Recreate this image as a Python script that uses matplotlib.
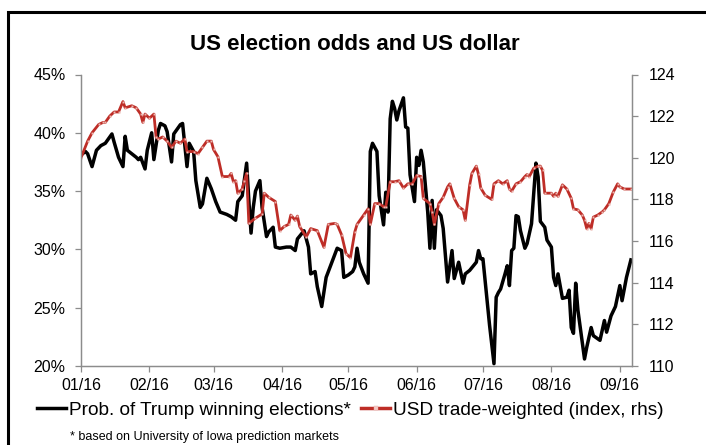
import matplotlib
matplotlib.use('Agg')
import matplotlib.pyplot as plt
import matplotlib.dates as mdates
from matplotlib.lines import Line2D
from matplotlib.patches import Rectangle
from matplotlib.ticker import FuncFormatter
import pandas as pd

plt.rcParams['font.family'] = ['Liberation Sans', 'DejaVu Sans']

# days since 1 Jan 2016
trump_day = [0, 2, 3, 5, 7, 9, 11, 14, 15, 17, 19, 20, 21, 23, 25, 26, 27, 29, 30, 32,
             33, 35, 36, 38, 39, 41, 42, 45, 46, 48, 49, 51, 52, 54, 55, 57, 59, 61, 63, 66,
             68, 70, 71, 73, 75, 76, 77, 78, 79, 81, 82, 84, 85, 87, 88, 90, 93, 95, 97, 98,
             101, 103, 104, 106, 107, 109, 111, 112, 115, 116, 118, 119, 121, 123, 124, 125, 126, 128, 130, 131,
             132, 134, 135, 137, 138, 139, 140, 141, 142, 143, 144, 146, 147, 148, 149, 151, 152, 153, 154, 155,
             157, 158, 159, 160, 161, 163, 164, 166, 168, 169, 171, 173, 174, 176, 179, 180, 181, 182, 185, 187,
             188, 189, 190, 192, 193, 194, 195, 196, 197, 198, 199, 201, 202, 204, 205, 206, 207, 208, 210, 211,
             213, 214, 215, 216, 218, 220, 221, 222, 223, 224, 225, 228, 229, 231, 232, 235, 237, 238, 240, 242,
             244, 245, 247, 249]
trump_pct = [38.1, 38.4, 38.2, 37.1, 38.5, 38.9, 39.1, 39.9, 39.2, 37.9, 37.1, 39.7, 38.5, 38.2, 37.9, 37.7, 37.9, 36.9, 38.5, 40.0,
             37.7, 40.2, 40.8, 40.6, 40.1, 37.5, 39.9, 40.7, 40.8, 37.1, 39.1, 38.4, 35.9, 33.6, 33.9, 36.1, 35.2, 34.1, 33.2, 33.0,
             32.8, 32.5, 34.1, 34.6, 37.4, 34.2, 31.4, 33.6, 35.0, 35.9, 33.6, 31.1, 31.5, 31.9, 30.2, 30.1, 30.2, 30.2, 29.9, 30.9,
             31.6, 30.2, 27.9, 28.1, 26.8, 25.1, 27.6, 28.1, 29.6, 30.1, 29.9, 27.6, 27.8, 28.1, 28.5, 30.1, 28.9, 27.9, 27.1, 38.4,
             39.1, 38.4, 34.6, 32.1, 34.9, 33.2, 41.2, 42.7, 42.1, 41.1, 41.9, 43.0, 40.5, 40.4, 36.4, 34.1, 37.9, 37.2, 38.5, 37.5,
             33.2, 30.1, 34.2, 30.1, 33.4, 32.9, 31.8, 27.2, 29.9, 27.5, 28.9, 27.1, 27.9, 28.2, 28.9, 29.9, 29.2, 29.2, 23.5, 20.2,
             25.9, 26.3, 26.6, 27.9, 28.6, 26.9, 29.9, 30.1, 32.9, 32.8, 31.6, 30.1, 30.5, 32.2, 34.8, 37.4, 36.2, 32.4, 31.9, 30.8,
             30.2, 27.6, 26.9, 27.9, 25.8, 25.9, 26.5, 23.3, 22.8, 27.1, 24.8, 20.6, 21.6, 23.3, 22.6, 22.2, 23.9, 22.9, 24.3, 25.1,
             26.9, 25.6, 27.6, 29.1]

usd_day = [0, 3, 5, 8, 10, 11, 13, 15, 17, 19, 20, 23, 25, 27, 28, 29, 31, 33, 34, 35,
           37, 39, 41, 43, 45, 47, 48, 51, 53, 55, 57, 59, 60, 62, 64, 67, 68, 69, 70, 71,
           73, 74, 75, 76, 79, 82, 83, 85, 88, 90, 92, 94, 95, 97, 98, 99, 102, 104, 107, 110,
           112, 115, 116, 118, 120, 122, 124, 125, 128, 130, 131, 133, 135, 137, 138, 140, 142, 144, 146, 148,
           150, 152, 154, 155, 158, 159, 160, 162, 164, 166, 167, 169, 171, 173, 174, 176, 177, 179, 180, 181,
           183, 186, 187, 189, 191, 193, 194, 195, 197, 199, 201, 202, 203, 205, 207, 208, 209, 210, 213, 214,
           215, 216, 218, 220, 222, 223, 225, 227, 228, 229, 230, 231, 232, 234, 236, 237, 239, 241, 243, 244,
           246, 249]
usd_idx = [120.0, 120.8, 121.2, 121.6, 121.7, 121.7, 122.0, 122.2, 122.2, 122.7, 122.4, 122.5, 122.4, 122.1, 121.7, 122.1, 121.9, 122.1, 121.0, 120.9,
           121.0, 120.8, 120.5, 120.8, 120.7, 120.9, 120.3, 120.3, 120.2, 120.5, 120.8, 120.8, 120.4, 120.05, 119.1, 119.1, 119.25, 118.85, 118.9, 118.3,
           118.5, 118.9, 119.25, 116.85, 117.1, 117.3, 118.3, 118.1, 117.9, 116.5, 116.7, 116.8, 117.25, 117.0, 117.2, 116.7, 116.2, 116.6, 116.5, 115.7,
           116.8, 116.85, 116.8, 116.3, 115.4, 115.2, 116.45, 116.8, 117.25, 117.55, 116.8, 117.8, 117.8, 117.65, 117.65, 118.85, 118.85, 118.9, 118.55, 118.75,
           118.75, 119.15, 119.1, 118.05, 117.8, 117.4, 116.8, 117.8, 118.1, 118.6, 118.75, 118.05, 117.65, 117.5, 117.0, 118.7, 119.25, 119.6, 119.2, 118.55,
           118.2, 118.0, 118.75, 118.9, 118.75, 118.9, 118.5, 118.4, 118.75, 118.85, 119.1, 119.2, 119.1, 119.5, 119.6, 119.6, 119.4, 118.3, 118.3, 118.15,
           118.3, 118.15, 118.7, 118.5, 118.05, 117.55, 117.5, 117.25, 117.0, 116.6, 116.85, 116.6, 117.15, 117.25, 117.4, 117.5, 117.8, 118.35, 118.75, 118.6,
           118.5, 118.5]

start = pd.Timestamp('2016-01-01')
trump_dates = start + pd.to_timedelta(trump_day, unit='D')
usd_dates = start + pd.to_timedelta(usd_day, unit='D')

red = '#be2d27'
grey = '#8c8c8c'

fig = plt.figure(figsize=(7.06, 4.45), dpi=100)
ax = fig.add_axes([81 / 706, 1 - 366 / 445, 551 / 706, 291.5 / 445])
ax2 = ax.twinx()

ax.plot(trump_dates, trump_pct, color='black', lw=2.5, solid_joinstyle='round')
ax2.plot(usd_dates, usd_idx, color=red, lw=2.0, marker='s', ms=1.2,
         mfc='#eeb8b2', mec='#e6a39c', mew=0.2)

ax.set_xlim(start, start + pd.Timedelta(days=249.5))
ax.set_ylim(20, 45)
ax.set_yticks(range(20, 46, 5))
ax.yaxis.set_major_formatter(FuncFormatter(lambda v, p: '%d%%' % v))
ax2.set_ylim(110, 124)
ax2.set_yticks(range(110, 125, 2))

ax.xaxis.set_major_locator(mdates.MonthLocator())
ax.xaxis.set_major_formatter(mdates.DateFormatter('%m/%y'))

for a in (ax, ax2):
    a.spines['top'].set_visible(False)
    for s in ('left', 'right', 'bottom'):
        a.spines[s].set_color(grey)
        a.spines[s].set_linewidth(0.9)
    a.tick_params(direction='out', length=4, width=0.9, color=grey, labelsize=11.5)
ax.tick_params(axis='y', pad=7)
ax2.tick_params(axis='y', pad=8)
ax.tick_params(axis='x', pad=5)

fig.text(354.5 / 706, 1 - 45 / 445, 'US election odds and US dollar',
         ha='center', va='center', fontsize=16, fontweight='bold')

handles = [Line2D([], [], color='black', lw=2.5),
           Line2D([], [], color=red, lw=2.5, marker='s', ms=2.2, mfc='#f4c9c5', mec='#eab0aa', mew=0.3)]
labels = ['Prob. of Trump winning elections*', 'USD trade-weighted (index, rhs)']
fig.legend(handles, labels, loc='center', bbox_to_anchor=(350 / 706, 1 - 410 / 445),
           ncol=2, frameon=False, fontsize=13.7, handlelength=1.55, handletextpad=0.12,
           columnspacing=0.55, borderpad=0, numpoints=1)

fig.text(70 / 706, 1 - 437 / 445, '* based on University of Iowa prediction markets',
         ha='left', va='center', fontsize=9)

# outer frame around the chart (cut off on right and bottom)
fig.patches.append(Rectangle((8 / 706, -0.1), 1.2, 1.1 - 12 / 445, transform=fig.transFigure,
                             fill=False, lw=2.2, ec='black'))

fig.savefig('out.png', dpi=100)
